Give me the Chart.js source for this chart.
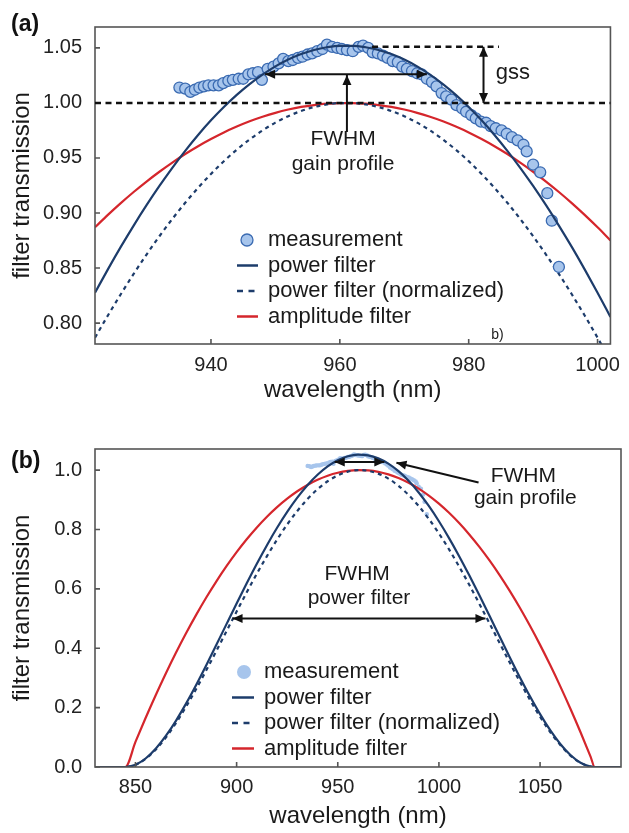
<!DOCTYPE html>
<html>
<head>
<meta charset="utf-8">
<script src="https://cdn.jsdelivr.net/npm/chart.js@4.4.0/dist/chart.umd.min.js"></script>
<style>
  body { margin: 0; background: #fff; }
  #wrap { position: relative; width: 629px; height: 833px; }
  canvas { position: absolute; left: 0; }
</style>
</head>
<body>
<div id="wrap">
  <canvas id="chartA" width="629" height="410" style="top:0px"></canvas>
  <canvas id="chartB" width="629" height="413" style="top:420px"></canvas>
</div>
<script>
// ---- panel (a) data ----
var measWl = [935.1, 936.0, 936.8, 937.5, 938.2, 938.9, 939.6, 940.4, 941.2, 941.9, 942.7, 943.4, 944.3, 945.0, 945.8, 946.5, 947.3, 947.9, 948.8, 949.7,
  950.5, 951.2, 952.0, 952.7, 953.5, 954.2, 955.0, 955.7, 956.5, 957.3, 958.0, 958.8, 959.6, 960.3, 961.1, 962.0, 962.9, 963.6, 964.4, 965.1,
  965.9, 966.7, 967.4, 968.2, 969.0, 969.7, 970.4, 971.2, 972.0, 972.7, 973.5, 974.3, 975.0, 975.8, 976.5, 977.3, 978.1, 979.0, 979.6, 980.4,
  981.1, 981.9, 982.7, 983.4, 984.2, 985.1, 985.9, 986.7, 987.6, 988.5, 989.0, 990.0, 991.1, 992.2, 992.9, 994.0];
var measT = [1.014, 1.013, 1.010, 1.012, 1.014, 1.015, 1.016, 1.016, 1.016, 1.018, 1.020, 1.021, 1.022, 1.022, 1.026, 1.027, 1.028, 1.021, 1.031, 1.033,
  1.036, 1.040, 1.038, 1.039, 1.041, 1.042, 1.044, 1.045, 1.047, 1.049, 1.053, 1.051, 1.050, 1.049, 1.048, 1.047, 1.051, 1.052, 1.050, 1.046,
  1.045, 1.043, 1.041, 1.038, 1.037, 1.033, 1.031, 1.029, 1.027, 1.026, 1.022, 1.019, 1.015, 1.009, 1.006, 1.003, 0.998, 0.995, 0.992, 0.989,
  0.986, 0.983, 0.982, 0.979, 0.977, 0.975, 0.972, 0.969, 0.966, 0.962, 0.956, 0.944, 0.937, 0.918, 0.893, 0.851];

var wlA = [922, 924, 926, 928, 930, 932, 934, 936, 938, 940, 942, 944, 946, 948, 950, 952, 954, 956, 958, 960,
  962, 964, 966, 968, 970, 972, 974, 976, 978, 980, 982, 984, 986, 988, 990, 992, 994, 996, 998, 1000, 1002];
var ampA = [.8870, .8983, .9090, .9191, .9286, .9375, .9458, .9536, .9607, .9672, .9732, .9785, .9833, .9874, .9910, .9940, .9964, .9981, .9993, .9999,
  .9999, .9993, .9981, .9964, .9940, .9910, .9874, .9833, .9785, .9732, .9672, .9607, .9536, .9458, .9375, .9286, .9191, .9090, .8983, .8870, .8751];
var normA = [.7867, .8069, .8262, .8447, .8623, .8789, .8946, .9093, .9229, .9355, .9471, .9575, .9668, .9750, .9821, .9880, .9927, .9963, .9987, .9999,
  .9999, .9987, .9963, .9927, .9880, .9821, .9750, .9668, .9575, .9471, .9355, .9229, .9093, .8946, .8789, .8623, .8447, .8262, .8069, .7867, .7658];
var powA = [.8276, .8488, .8692, .8886, .9071, .9246, .9411, .9565, .9709, .9842, .9963, 1.0073, 1.0171, 1.0257, 1.0332, 1.0394, 1.0444, 1.0481, 1.0506, 1.0519,
  1.0519, 1.0506, 1.0481, 1.0444, 1.0394, 1.0332, 1.0257, 1.0171, 1.0073, .9963, .9842, .9709, .9565, .9411, .9246, .9071, .8886, .8692, .8488, .8276, .8056];

var xTicksA = [940, 960, 980, 1000];
var yTicksA = [0.80, 0.85, 0.90, 0.95, 1.00, 1.05];

// ---- panel (b) data ----
var wlB = [830, 835, 840, 845, 850, 855, 860, 865, 870, 875, 880, 885, 890, 895, 900, 905, 910, 915, 920, 925, 930, 935, 940, 945,
  950, 955, 960, 965, 970, 975, 980, 985, 990, 995, 1000, 1005, 1010, 1015, 1020, 1025, 1030, 1035, 1040, 1045, 1050, 1055, 1060, 1065, 1070, 1075,
  1077, 1080, 1085, 1090];
var ampB = [0, 0, 0, 0, .0844, .1650, .2419, .3151, .3846, .4504, .5124, .5708, .6254, .6763, .7235, .7669, .8067, .8428, .8751, .9037, .9286, .9498, .9672, .9810,
  .9910, .9973, .9999, .9988, .9940, .9854, .9732, .9572, .9375, .9141, .8870, .8561, .8216, .7833, .7413, .6956, .6462, .5930, .5362, .4756, .4113, .3433, .2716, .1962, .1171, .0342,
  0, 0, 0, 0];
var normB = [0, 0, 0, 0, .0071, .0272, .0585, .0993, .1479, .2028, .2626, .3258, .3911, .4574, .5234, .5882, .6508, .7102, .7658, .8167, .8623, .9021, .9355, .9623,
  .9821, .9947, .9999, .9976, .9880, .9711, .9471, .9162, .8789, .8356, .7867, .7329, .6750, .6135, .5495, .4839, .4176, .3517, .2875, .2262, .1692, .1179, .0738, .0385, .0137, .0012,
  0, 0, 0, 0];
var powB = [0, 0, 0, 0, .0075, .0286, .0615, .1045, .1556, .2134, .2762, .3427, .4114, .4812, .5506, .6188, .6846, .7471, .8056, .8591, .9071, .9490, .9842, 1.0123,
  1.0332, 1.0464, 1.0519, 1.0495, 1.0394, 1.0216, .9963, .9638, .9246, .8791, .8276, .7710, .7101, .6454, .5781, .5091, .4393, .3700, .3025, .2380, .1780, .1240, .0776, .0405, .0144, .0012,
  0, 0, 0, 0];

var xTicksB = [850, 900, 950, 1000, 1050];
var yTicksB = [0.0, 0.2, 0.4, 0.6, 0.8, 1.0];

var labels = ['measurement', 'power filter', 'power filter (normalized)', 'amplitude filter'];

// ---- styles ----
var FONT = '"Liberation Sans", Arial, sans-serif';
var NAVY = '#1d3c6b';
var RED = '#d5262c';
var DOT = '#a7c5ec';
var DOT_EDGE = '#3b6bb2';

function pts(xs, ys) {
  return xs.map(function (x, i) { return { x: x, y: ys[i] }; });
}

function arrowHead(ctx, x1, y1, x2, y2) {
  var ang = Math.atan2(y2 - y1, x2 - x1), L = 10, W = 4.5;
  ctx.beginPath();
  ctx.moveTo(x2, y2);
  ctx.lineTo(x2 - L * Math.cos(ang) + W * Math.sin(ang), y2 - L * Math.sin(ang) - W * Math.cos(ang));
  ctx.lineTo(x2 - L * Math.cos(ang) - W * Math.sin(ang), y2 - L * Math.sin(ang) + W * Math.cos(ang));
  ctx.closePath();
  ctx.fill();
}

function arrow(ctx, x1, y1, x2, y2, both) {
  ctx.save();
  ctx.strokeStyle = '#111'; ctx.fillStyle = '#111'; ctx.lineWidth = 2;
  ctx.beginPath(); ctx.moveTo(x1, y1); ctx.lineTo(x2, y2); ctx.stroke();
  arrowHead(ctx, x1, y1, x2, y2);
  if (both) arrowHead(ctx, x2, y2, x1, y1);
  ctx.restore();
}

function dashLine(ctx, x1, y1, x2, y2) {
  ctx.save();
  ctx.strokeStyle = '#111'; ctx.lineWidth = 2.5; ctx.setLineDash([6, 4.5]);
  ctx.beginPath(); ctx.moveTo(x1, y1); ctx.lineTo(x2, y2); ctx.stroke();
  ctx.restore();
}

function text(ctx, s, x, y, size, align) {
  ctx.save();
  ctx.fillStyle = '#1a1a1a';
  ctx.font = size + 'px ' + FONT;
  ctx.textAlign = align || 'center';
  ctx.textBaseline = 'middle';
  ctx.fillText(s, x, y);
  ctx.restore();
}

function drawLegend(ctx, lg) {
  var y;
  for (var i = 0; i < labels.length; i++) {
    y = lg.y + i * lg.dy;
    ctx.save();
    if (i === 0) {
      ctx.beginPath();
      ctx.arc(lg.mx, y, lg.r, 0, Math.PI * 2);
      ctx.fillStyle = lg.dotFill; ctx.fill();
      if (lg.dotEdge) { ctx.strokeStyle = lg.dotEdge; ctx.lineWidth = 1.3; ctx.stroke(); }
    } else {
      ctx.strokeStyle = i === 3 ? RED : NAVY;
      ctx.lineWidth = 2.5;
      if (i === 2) ctx.setLineDash([6, 5.5]);
      ctx.beginPath(); ctx.moveTo(lg.x1, y); ctx.lineTo(lg.x2, y); ctx.stroke();
    }
    ctx.restore();
    text(ctx, labels[i], lg.tx, y, 22, 'left');
  }
}

function decoPlugin(panel, extra) {
  return {
    id: 'deco' + panel,
    afterDatasetsDraw: function (chart) {
      var ctx = chart.ctx, a = chart.chartArea, xs = chart.scales.x, ys = chart.scales.y;
      ctx.save();
      // frame
      ctx.strokeStyle = '#555'; ctx.lineWidth = 1.6;
      ctx.strokeRect(a.left, a.top, a.right - a.left, a.bottom - a.top);
      // inward tick marks
      ctx.beginPath();
      xs.ticks.forEach(function (t) {
        var px = xs.getPixelForValue(t.value);
        ctx.moveTo(px, a.bottom); ctx.lineTo(px, a.bottom - 5);
      });
      ys.ticks.forEach(function (t) {
        var py = ys.getPixelForValue(t.value);
        ctx.moveTo(a.left, py); ctx.lineTo(a.left + 5, py);
      });
      ctx.stroke();
      ctx.restore();
      // panel label
      ctx.save();
      ctx.fillStyle = '#111';
      ctx.font = 'bold 23px ' + FONT;
      ctx.textBaseline = 'middle';
      ctx.fillText(panel, 11, panel === '(a)' ? 25 : 42);
      ctx.restore();
      extra(ctx, xs, ys, a);
    }
  };
}

function axes(xmin, xmax, xt, ymin, ymax, yt, dec, xpad, titlePad) {
  return {
    x: {
      type: 'linear', min: xmin, max: xmax,
      afterBuildTicks: function (s) { s.ticks = xt.map(function (v) { return { value: v }; }); },
      afterFit: function (s) { s.height = 66; },
      grid: { display: false, drawTicks: false },
      border: { display: false },
      ticks: { color: '#222', font: { size: 20, family: FONT }, padding: xpad, maxRotation: 0,
        callback: function (v) { return String(v); } },
      title: { display: true, text: 'wavelength (nm)', color: '#1a1a1a', font: { size: 24, family: FONT },
        padding: { top: 0, bottom: titlePad } }
    },
    y: {
      min: ymin, max: ymax,
      afterBuildTicks: function (s) { s.ticks = yt.map(function (v) { return { value: v }; }); },
      afterFit: function (s) { s.width = 95; },
      grid: { display: false, drawTicks: false },
      border: { display: false },
      ticks: { color: '#222', font: { size: 20, family: FONT }, padding: 13,
        callback: function (v) { return v.toFixed(dec); } },
      title: { display: true, text: 'filter transmission', color: '#1a1a1a', font: { size: 24, family: FONT },
        padding: { top: 8, bottom: 0 } }
    }
  };
}

var lineBase = { pointRadius: 0, borderWidth: 2.2, fill: false, cubicInterpolationMode: 'monotone' };

// ---- chart (a) ----
var chartA = new Chart(document.getElementById('chartA'), {
  type: 'line',
  data: {
    datasets: [
      Object.assign({ label: labels[1], data: pts(wlA, powA), borderColor: NAVY, order: 1 }, lineBase),
      { label: labels[0], data: pts(measWl, measT), showLine: false, pointRadius: 5.5, pointBackgroundColor: DOT,
        pointBorderColor: DOT_EDGE, pointBorderWidth: 1.3, order: 2 },
      Object.assign({ label: labels[2], data: pts(wlA, normA), borderColor: NAVY, borderDash: [4, 4], order: 3 }, lineBase),
      Object.assign({ label: labels[3], data: pts(wlA, ampA), borderColor: RED, order: 4 }, lineBase)
    ]
  },
  options: {
    responsive: false, animation: false,
    layout: { padding: { top: 27, right: 8, left: 0, bottom: 0 } },
    plugins: { legend: { display: false }, tooltip: { enabled: false } },
    scales: axes(922, 1002, xTicksA, 0.781, 1.069, yTicksA, 2, 9, 5)
  },
  plugins: [decoPlugin('(a)', function (ctx, xs, ys, a) {
    var X = function (v) { return xs.getPixelForValue(v); }, Y = function (v) { return ys.getPixelForValue(v); };
    dashLine(ctx, a.left, Y(1.0), a.right, Y(1.0));
    dashLine(ctx, X(965), Y(1.051), X(984.7), Y(1.051));
    arrow(ctx, X(982.3), Y(1.051), X(982.3), Y(1.0), true);
    text(ctx, 'gss', X(984.2), Y(1.027), 22, 'left');
    arrow(ctx, X(948.4), Y(1.026), X(973.5), Y(1.026), true);
    arrow(ctx, X(961.1), Y(0.9736), X(961.1), Y(1.0255), false);
    text(ctx, 'FWHM', X(960.5), Y(0.967), 21);
    text(ctx, 'gain profile', X(960.5), Y(0.9445), 21);
    text(ctx, 'b)', X(983.5), Y(0.789), 14, 'left');
    drawLegend(ctx, { y: 240, dy: 25.5, mx: 247, r: 6, x1: 237, x2: 258, tx: 268, dotFill: DOT, dotEdge: DOT_EDGE });
  })]
});

// ---- chart (b) ----
var chartB = new Chart(document.getElementById('chartB'), {
  type: 'line',
  data: {
    datasets: [
      Object.assign({ label: labels[1], data: pts(wlB, powB), borderColor: NAVY, order: 1 }, lineBase),
      Object.assign({ label: labels[2], data: pts(wlB, normB), borderColor: NAVY, borderDash: [4, 4], order: 2 }, lineBase),
      Object.assign({ label: labels[3], data: pts(wlB, ampB), borderColor: RED, order: 3 }, lineBase),
      { label: labels[0], data: pts(measWl, measT), showLine: false, pointRadius: 2.2, pointBackgroundColor: DOT,
        pointBorderWidth: 0, order: 4 }
    ]
  },
  options: {
    responsive: false, animation: false,
    layout: { padding: { top: 29, right: 8, left: 0, bottom: 0 } },
    plugins: { legend: { display: false }, tooltip: { enabled: false } },
    scales: axes(830, 1090, xTicksB, 0, 1.071, yTicksB, 1, 8, 2)
  },
  plugins: [decoPlugin('(b)', function (ctx, xs, ys, a) {
    var X = function (v) { return xs.getPixelForValue(v); }, Y = function (v) { return ys.getPixelForValue(v); };
    arrow(ctx, X(948.5), Y(1.027), X(973), Y(1.027), true);
    arrow(ctx, X(1019.6), Y(0.958), X(979), Y(1.025), false);
    text(ctx, 'FWHM', X(1041.7), Y(0.978), 21);
    text(ctx, 'gain profile', X(1042.7), Y(0.904), 21);
    arrow(ctx, X(898), Y(0.5), X(1023), Y(0.5), true);
    text(ctx, 'FWHM', X(959.6), Y(0.648), 21);
    text(ctx, 'power filter', X(960.5), Y(0.567), 21);
    drawLegend(ctx, { y: 252, dy: 25.5, mx: 244, r: 7, x1: 232, x2: 254, tx: 264, dotFill: DOT, dotEdge: null });
  })]
});
</script>
</body>
</html>
